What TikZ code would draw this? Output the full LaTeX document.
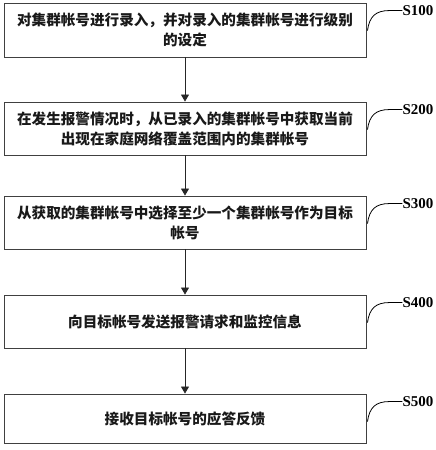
\documentclass[tikz,border=0pt]{standalone}
\usepackage{fontspec}
\setmainfont{Liberation Serif}
\newfontfamily\cjk{Noto Sans CJK SC}
\usetikzlibrary{arrows.meta}
\tikzset{
  stepbox/.style={draw=black!75, line width=0.9pt, minimum width=362pt, inner sep=0pt,
    font=\cjk\bfseries\fontsize{14.6}{20}\selectfont, align=center, text=black!90},
  flow/.style={draw=black!85, line width=0.8pt, -{Triangle[length=7pt,width=8pt]}},
  steplabel/.style={anchor=west, inner sep=0pt, font=\bfseries\fontsize{15}{16}\selectfont},
  leader/.style={draw=black, line width=0.8pt}
}
\begin{document}
\begin{tikzpicture}[x=1pt,y=-1pt]
\useasboundingbox (0,0) rectangle (436,450);
\node[stepbox, minimum height=54pt] (b1) at (185,30) {对集群帐号进行录入，并对录入的集群帐号进行级别\\的设定};
\node[stepbox, minimum height=53pt] (b2) at (185,128.5) {在发生报警情况时，从已录入的集群帐号中获取当前\\出现在家庭网络覆盖范围内的集群帐号};
\node[stepbox, minimum height=53pt] (b3) at (185,222.5) {从获取的集群帐号中选择至少一个集群帐号作为目标\\帐号};
\node[stepbox, minimum height=53pt] (b4) at (185,321.5) {向目标帐号发送报警请求和监控信息};
\node[stepbox, minimum height=49pt] (b5) at (185,418.5) {接收目标帐号的应答反馈};
\draw[flow] (b1.south) -- (b2.north);
\draw[flow] (b2.south) -- (b3.north);
\draw[flow] (b3.south) -- (b4.north);
\draw[flow] (b4.south) -- (b5.north);
\foreach \b/\t in {b1/S100,b2/S200,b3/S300,b4/S400,b5/S500}{
  \node[steplabel] (l\b) at ([xshift=36pt,yshift=-8pt]\b.north east) {\t};
  \coordinate (s\b) at ([xshift=1pt,yshift=-28pt]\b.north east);
  \draw[leader] (s\b) .. controls ([xshift=2pt,yshift=14pt]s\b) and ([xshift=8pt,yshift=20pt]s\b) .. ([xshift=22pt,yshift=20pt]s\b) -- (l\b.west);
}
\end{tikzpicture}
\end{document}
